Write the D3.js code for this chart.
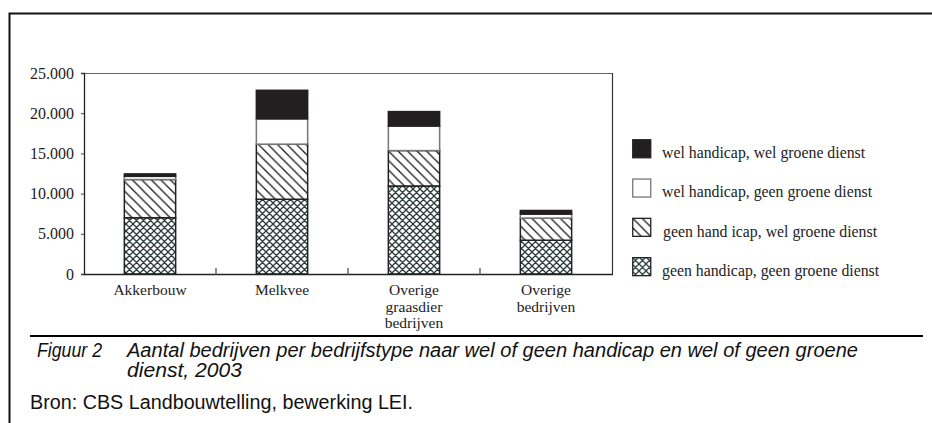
<!DOCTYPE html>
<html>
<head>
<meta charset="utf-8">
<script src="https://cdn.jsdelivr.net/npm/d3@7"></script>
<style>
  body { margin: 0; background: #fff; }
  svg { display: block; }
  .tick-label, .cat-label, .legend-label { font-family: "Liberation Serif", "Times New Roman", serif; fill: #222; }
  .caption { font-family: "Liberation Sans Narrow", "Arial Narrow", "Liberation Sans", sans-serif; fill: #111; }
</style>
</head>
<body>
<div id="chart"></div>
<script>
const width = 932,
  height = 423,
  margin = { top: 73, bottom: 149, left: 84, right: 320 };

// data
const categories = ["Akkerbouw", "Melkvee", "Overige graasdier bedrijven", "Overige bedrijven"];
const categoryLines = [["Akkerbouw"], ["Melkvee"], ["Overige", "graasdier", "bedrijven"], ["Overige", "bedrijven"]];
const geenHandicapGeenGroen = [7000, 9300, 10950, 4200];
const geenHandicapWelGroen = [4750, 6850, 4400, 2750];
const welHandicapGeenGroen = [400, 3150, 3050, 500];
const welHandicapWelGroen = [300, 3550, 1800, 450];
const yTicks = [0, 5000, 10000, 15000, 20000, 25000];

const seriesKeys = ["gg", "gw", "wg", "ww"];
const legendLabels = {
  ww: "wel handicap, wel groene dienst",
  wg: "wel handicap, geen groene dienst",
  gw: "geen hand icap, wel groene dienst",
  gg: "geen handicap, geen groene dienst"
};
const legendOrder = ["ww", "wg", "gw", "gg"];

const rows = categories.map((c, i) => ({
  cat: c,
  gg: geenHandicapGeenGroen[i],
  gw: geenHandicapWelGroen[i],
  wg: welHandicapGeenGroen[i],
  ww: welHandicapWelGroen[i]
}));

const svg = d3.select("#chart").append("svg")
  .attr("width", width)
  .attr("height", height);

// patterns
const defs = svg.append("defs");
const cross = defs.append("pattern")
  .attr("id", "cross")
  .attr("patternUnits", "userSpaceOnUse")
  .attr("width", 7).attr("height", 7);
cross.append("rect").attr("width", 7).attr("height", 7).attr("fill", "#fff");
cross.append("path")
  .attr("d", "M0,0L7,7M7,0L0,7M-1,6L1,8M6,-1L8,1M-1,1L1,-1M6,8L8,6")
  .attr("stroke", "#2c3b3b").attr("stroke-width", 1.3);

const diag = defs.append("pattern")
  .attr("id", "diag")
  .attr("patternUnits", "userSpaceOnUse")
  .attr("width", 9.5).attr("height", 9.5);
diag.append("rect").attr("width", 9.5).attr("height", 9.5).attr("fill", "#fff");
diag.append("path")
  .attr("d", "M0,0L9.5,9.5M-2,7.5L2,11.5M7.5,-2L11.5,2")
  .attr("stroke", "#1a1a1a").attr("stroke-width", 1.3);

const fills = { gg: "url(#cross)", gw: "url(#diag)", wg: "#fff", ww: "#231f20" };
const strokes = { gg: "#222", gw: "#222", wg: "#777", ww: "#231f20" };

// outer frame
svg.append("path")
  .attr("d", `M9.5,${height}V13.5H${width}`)
  .attr("fill", "none").attr("stroke", "#111").attr("stroke-width", 2);

const xScale = d3.scaleBand()
  .domain(categories)
  .range([margin.left, width - margin.right])
  .paddingInner(0.6)
  .paddingOuter(0.3);

const yScale = d3.scaleLinear()
  .domain([0, 25000])
  .range([height - margin.bottom, margin.top]);

const nl = d3.formatLocale({ decimal: ",", thousands: ".", grouping: [3], currency: ["", ""] });
const fmt = nl.format(",");

// plot box
svg.append("line")
  .attr("x1", margin.left).attr("x2", width - margin.right)
  .attr("y1", margin.top + 0.5).attr("y2", margin.top + 0.5)
  .attr("stroke", "#666").attr("stroke-width", 1.2);
svg.append("line")
  .attr("x1", width - margin.right + 0.5).attr("x2", width - margin.right + 0.5)
  .attr("y1", margin.top).attr("y2", height - margin.bottom)
  .attr("stroke", "#333").attr("stroke-width", 1.2);

// stacked bars
const stack = d3.stack().keys(seriesKeys)(rows);
svg.append("g").selectAll("g")
  .data(stack)
  .join("g")
  .each(function(s) {
    d3.select(this).selectAll("rect")
      .data(s)
      .join("rect")
      .attr("x", d => xScale(d.data.cat) + 0.75)
      .attr("width", xScale.bandwidth() - 1.5)
      .attr("y", d => yScale(d[1]))
      .attr("height", d => yScale(d[0]) - yScale(d[1]))
      .attr("fill", fills[s.key])
      .attr("stroke", strokes[s.key])
      .attr("stroke-width", 1.5);
  });

// y axis
const yAxis = d3.axisLeft(yScale).tickValues(yTicks).tickFormat(fmt).tickSize(3).tickPadding(7);
const gy = svg.append("g")
  .attr("transform", `translate(${margin.left},0)`)
  .call(yAxis);
gy.select(".domain").attr("stroke", "#222").attr("stroke-width", 1.3);
gy.selectAll(".tick line").attr("stroke", "#444");
gy.selectAll(".tick text")
  .attr("class", "tick-label")
  .attr("font-size", 16)
  .attr("font-family", null)
  .attr("fill", "#222");

// x axis line and inner ticks between categories
const x0 = height - margin.bottom;
svg.append("line")
  .attr("x1", margin.left).attr("x2", width - margin.right + 1)
  .attr("y1", x0 + 0.5).attr("y2", x0 + 0.5)
  .attr("stroke", "#222").attr("stroke-width", 1.3);
svg.append("g").selectAll("line")
  .data(categories.slice(1))
  .join("line")
  .attr("x1", d => xScale(d) - xScale.step() * xScale.paddingInner() / 2)
  .attr("x2", d => xScale(d) - xScale.step() * xScale.paddingInner() / 2)
  .attr("y1", x0 - 6).attr("y2", x0 + 1)
  .attr("stroke", "#444").attr("stroke-width", 1.2);

// category labels
svg.append("g").selectAll("text")
  .data(categories)
  .join("text")
  .attr("class", "cat-label")
  .attr("font-size", 15.5)
  .attr("text-anchor", "middle")
  .attr("x", d => xScale(d) + xScale.bandwidth() / 2)
  .attr("y", x0 + 21)
  .each(function(d, i) {
    d3.select(this).selectAll("tspan")
      .data(categoryLines[i])
      .join("tspan")
      .attr("x", xScale(d) + xScale.bandwidth() / 2)
      .attr("dy", (t, j) => j === 0 ? 0 : 16.5)
      .text(t => t);
  });

// legend
const legend = svg.append("g").attr("transform", "translate(632,139)");
const li = legend.selectAll("g")
  .data(legendOrder)
  .join("g")
  .attr("transform", (d, i) => `translate(0,${i * 39.3})`);
li.append("rect")
  .attr("x", 0.75).attr("y", 0.75)
  .attr("width", 18).attr("height", 18)
  .attr("fill", d => fills[d])
  .attr("stroke", d => d === "wg" ? "#777" : "#222")
  .attr("stroke-width", 1.3);
li.append("text")
  .attr("class", "legend-label")
  .attr("font-size", 15.8)
  .attr("x", (d, i) => i === 2 ? 31 : 30)
  .attr("y", 19)
  .text(d => legendLabels[d]);

// caption
svg.append("line")
  .attr("x1", 30).attr("x2", 923)
  .attr("y1", 336).attr("y2", 336)
  .attr("stroke", "#000").attr("stroke-width", 2);

const caption = svg.append("g").attr("class", "caption").attr("font-size", 20);
caption.append("text")
  .attr("x", 37).attr("y", 357)
  .attr("font-style", "italic")
  .attr("textLength", 65).attr("lengthAdjust", "spacingAndGlyphs")
  .text("Figuur 2");
caption.append("text")
  .attr("x", 127).attr("y", 357)
  .attr("font-style", "italic")
  .attr("textLength", 731).attr("lengthAdjust", "spacingAndGlyphs")
  .text("Aantal bedrijven per bedrijfstype naar wel of geen handicap en wel of geen groene");
caption.append("text")
  .attr("x", 127).attr("y", 377)
  .attr("font-style", "italic")
  .attr("textLength", 115).attr("lengthAdjust", "spacingAndGlyphs")
  .text("dienst, 2003");
caption.append("text")
  .attr("x", 30).attr("y", 409)
  .attr("textLength", 383).attr("lengthAdjust", "spacingAndGlyphs")
  .text("Bron: CBS Landbouwtelling, bewerking LEI.");
</script>
</body>
</html>
